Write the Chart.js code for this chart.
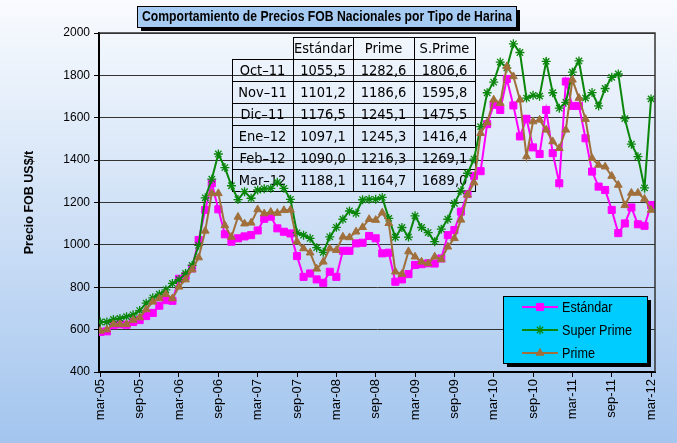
<!DOCTYPE html>
<html>
<head>
<meta charset="utf-8">
<script src="https://cdn.jsdelivr.net/npm/chart.js@4.4.0/dist/chart.umd.min.js"></script>
<style>
html, body { margin: 0; padding: 0; overflow: hidden; }
canvas { display: block; }
</style>
</head>
<body>
<canvas id="chart" width="677" height="443"></canvas>
<script>
// tick labels every 6 months, mar-05 .. mar-12
var tickLabels = ['mar-05','sep-05','mar-06','sep-06','mar-07','sep-07','mar-08','sep-08',
	'mar-09','sep-09','mar-10','sep-10','mar-11','sep-11','mar-12'];

// monthly FOB prices, mar-05 .. mar-12 (85 months)
var estandar = [589,592,621,625,623,636,645,664,679,713,739,736,840,853,889,1023,1165,1291,1168,1050,
	1015,1031,1040,1046,1068,1123,1133,1078,1062,1054,947,849,865,837,821,873,849,972,972,1007,
	1010,1042,1031,960,963,826,837,862,905,909,913,912,936,1046,1070,1157,1240,1326,1348,1570,
	1661,1637,1783,1658,1512,1595,1460,1429,1637,1433,1291,1771,1656,1656,1503,1346,1275,1259,1165,
	1055.5,1101.2,1176.5,1097.1,1090.0,1188.1];
var superPrime = [636,636,648,653,661,670,690,725,750,767,788,818,836,865,903,998,1222,1310,1429,1365,
	1279,1214,1251,1220,1259,1265,1267,1296,1267,1215,1057,1046,1031,987,965,1038,1083,1121,1160,1149,
	1213,1215,1215,1224,1125,1036,1082,1037,1137,1082,1058,1015,1074,1121,1196,1255,1338,1405,1558,1718,
	1768,1863,1835,1949,1908,1693,1706,1702,1866,1718,1645,1673,1815,1868,1693,1719,1656,1738,1791,
	1806.6,1595.8,1475.5,1416.4,1269.1,1689.0];
var prime = [594,600,625,625,625,645,657,695,731,747,767,747,802,836,883,940,1066,1243,1243,1092,
	1037,1132,1100,1104,1167,1148,1155,1150,1163,1165,1015,983,963,887,920,983,975,1038,1035,1062,
	1083,1121,1117,1152,1102,873,862,969,944,920,912,944,931,991,1031,1118,1236,1294,1527,1577,
	1685,1669,1842,1795,1685,1417,1582,1590,1543,1488,1456,1543,1779,1693,1593,1409,1377,1369,1325,
	1282.6,1186.6,1245.1,1245.3,1216.3,1164.7];

var tableMonths = ['Oct–11','Nov–11','Dic–11','Ene–12','Feb–12','Mar–12'];
var tableHeads = ['Estándar','Prime','S.Prime'];

var sans = "'Liberation Sans', Arial, sans-serif";

function pts(arr) {
	return arr.map(function (v, i) { return {x: i, y: v}; });
}
function fmt(v) {
	return v.toFixed(1).replace('.', ',');
}
// narrow look: squeeze text horizontally
function narrowText(ctx, txt, x, y, sx) {
	ctx.save();
	ctx.translate(x, y);
	ctx.scale(sx, 1);
	ctx.fillText(txt, 0, 0);
	ctx.restore();
}

var bgPlugin = {
	id: 'bg',
	beforeDraw: function (chart) {
		var ctx = chart.ctx;
		var g = ctx.createLinearGradient(0, 0, 0, chart.height);
		g.addColorStop(0, '#f9fbfe');
		g.addColorStop(1, '#a3c5ee');
		ctx.save();
		ctx.fillStyle = g;
		ctx.fillRect(0, 0, chart.width, chart.height);
		ctx.restore();
	}
};

var tablePlugin = {
	id: 'table',
	beforeDatasetsDraw: function (chart) {
		var ctx = chart.ctx, a = chart.chartArea;
		var cols = [a.left + 133, a.left + 194, a.left + 254, a.left + 315, a.left + 376];
		var top = a.top + 4, rh = 22;
		var cols3 = [estandar.slice(-6), prime.slice(-6), superPrime.slice(-6)];
		ctx.save();
		ctx.strokeStyle = '#000';
		ctx.lineWidth = 1;
		ctx.fillStyle = '#000';
		ctx.font = "14.5px 'DejaVu Sans Condensed', 'DejaVu Sans', sans-serif";
		ctx.textAlign = 'center';
		ctx.textBaseline = 'middle';
		// header
		for (var c = 0; c < 3; c++) {
			ctx.strokeRect(cols[c + 1] + 0.5, top + 0.5, cols[c + 2] - cols[c + 1], rh);
			ctx.fillText(tableHeads[c], (cols[c + 1] + cols[c + 2]) / 2, top + rh / 2 + 1);
		}
		for (var r = 0; r < tableMonths.length; r++) {
			var y = top + rh * (r + 1);
			ctx.strokeRect(cols[0] + 0.5, y + 0.5, cols[1] - cols[0], rh);
			ctx.fillText(tableMonths[r], (cols[0] + cols[1]) / 2, y + rh / 2 + 1);
			for (var k = 0; k < 3; k++) {
				ctx.strokeRect(cols[k + 1] + 0.5, y + 0.5, cols[k + 2] - cols[k + 1], rh);
				ctx.fillText(fmt(cols3[k][r]), (cols[k + 1] + cols[k + 2]) / 2, y + rh / 2 + 1);
			}
		}
		ctx.restore();
	}
};

var decorPlugin = {
	id: 'decor',
	afterDraw: function (chart) {
		var ctx = chart.ctx, a = chart.chartArea;
		ctx.save();
		// plot frame top/right
		ctx.strokeStyle = '#333';
		ctx.lineWidth = 1.5;
		ctx.beginPath();
		ctx.moveTo(a.left, a.top);
		ctx.lineTo(a.right, a.top);
		ctx.lineTo(a.right, a.bottom);
		ctx.stroke();

		// title box
		ctx.fillStyle = '#000';
		ctx.fillRect(141, 10, 379, 21);
		ctx.fillStyle = '#a6cbf3';
		ctx.fillRect(137, 6, 379, 21);
		ctx.lineWidth = 1;
		ctx.strokeStyle = '#000';
		ctx.strokeRect(137.5, 6.5, 379, 21);
		ctx.fillStyle = '#000';
		ctx.font = 'bold 14px ' + sans;
		ctx.textAlign = 'center';
		ctx.textBaseline = 'middle';
		narrowText(ctx, 'Comportamiento de Precios FOB Nacionales por Tipo de Harina', 327, 17, 0.87);

		// legend box
		var lx = 503, ly = 296, lw = 144, lh = 67;
		ctx.fillStyle = '#000';
		ctx.fillRect(lx + 4, ly + 4, lw, lh);
		ctx.fillStyle = '#00ccff';
		ctx.fillRect(lx, ly, lw, lh);
		ctx.strokeRect(lx + 0.5, ly + 0.5, lw, lh);
		ctx.font = '14px ' + sans;
		ctx.textAlign = 'left';
		[0, 1, 2].forEach(function (di, n) {
			var ds = chart.data.datasets[di];
			var y = ly + 11 + n * 23;
			ctx.strokeStyle = ds.borderColor;
			ctx.lineWidth = 2;
			ctx.beginPath();
			ctx.moveTo(lx + 19, y);
			ctx.lineTo(lx + 55, y);
			ctx.stroke();
			ctx.fillStyle = ds.pointBackgroundColor;
			ctx.lineWidth = ds.pointBorderWidth;
			Chart.helpers.drawPoint(ctx, {pointStyle: ds.pointStyle, radius: ds.pointRadius, rotation: 0, borderWidth: ds.pointBorderWidth}, lx + 37, y);
			ctx.fillStyle = '#000';
			narrowText(ctx, ds.label, lx + 59, y + 1, 0.9);
		});
		ctx.restore();
	}
};

new Chart(document.getElementById('chart'), {
	type: 'line',
	data: {
		datasets: [
			{label: 'Estándar', data: pts(estandar), borderColor: '#ff00ff', backgroundColor: '#ff00ff',
				pointBackgroundColor: '#ff00ff', pointStyle: 'rect', pointRadius: 5, pointBorderWidth: 1,
				borderWidth: 2, order: 2},
			{label: 'Super Prime', data: pts(superPrime), borderColor: '#0a860a', backgroundColor: '#0a860a',
				pointBackgroundColor: '#0a860a', pointStyle: 'star', pointRadius: 4.5, pointBorderWidth: 1.3,
				borderWidth: 2, order: 1},
			{label: 'Prime', data: pts(prime), borderColor: '#a0703c', backgroundColor: '#a0703c',
				pointBackgroundColor: '#a0703c', pointStyle: 'triangle', pointRadius: 4.5, pointBorderWidth: 1,
				borderWidth: 2, order: 0}
		]
	},
	options: {
		responsive: false,
		animation: false,
		layout: {padding: {left: 0, right: 22, top: 33, bottom: 0}},
		plugins: {legend: {display: false}, tooltip: {enabled: false}},
		scales: {
			x: {
				type: 'linear',
				min: -0.2,
				max: 84.6,
				afterBuildTicks: function (axis) {
					axis.ticks = tickLabels.map(function (l, k) { return {value: k * 6}; });
				},
				afterFit: function (s) { s.height = 71; },
				ticks: {
					autoSkip: false,
					maxRotation: 90,
					minRotation: 90,
					padding: 2,
					color: '#000',
					font: {family: sans, size: 13},
					callback: function (v) { return tickLabels[Math.round(v / 6)]; }
				},
				grid: {drawOnChartArea: false, drawTicks: true, tickLength: 5, color: '#000'},
				border: {color: '#000', width: 2}
			},
			y: {
				min: 400,
				max: 2000,
				afterFit: function (s) { s.width = 99; },
				ticks: {
					stepSize: 200, padding: 4, color: '#000', font: {family: sans, size: 12},
					callback: function (v) { return String(v); }
				},
				grid: {color: '#333', borderDash: [1, 1], tickBorderDash: [], tickColor: '#000', tickLength: 5, lineWidth: 1},
				border: {color: '#000', width: 2},
				title: {
					display: true,
					text: 'Precio FOB US$/t',
					color: '#000',
					font: {family: sans, size: 12.5, weight: 'bold'},
					padding: {top: 22, bottom: 0}
				}
			}
		}
	},
	plugins: [bgPlugin, tablePlugin, decorPlugin]
});
</script>
</body>
</html>
